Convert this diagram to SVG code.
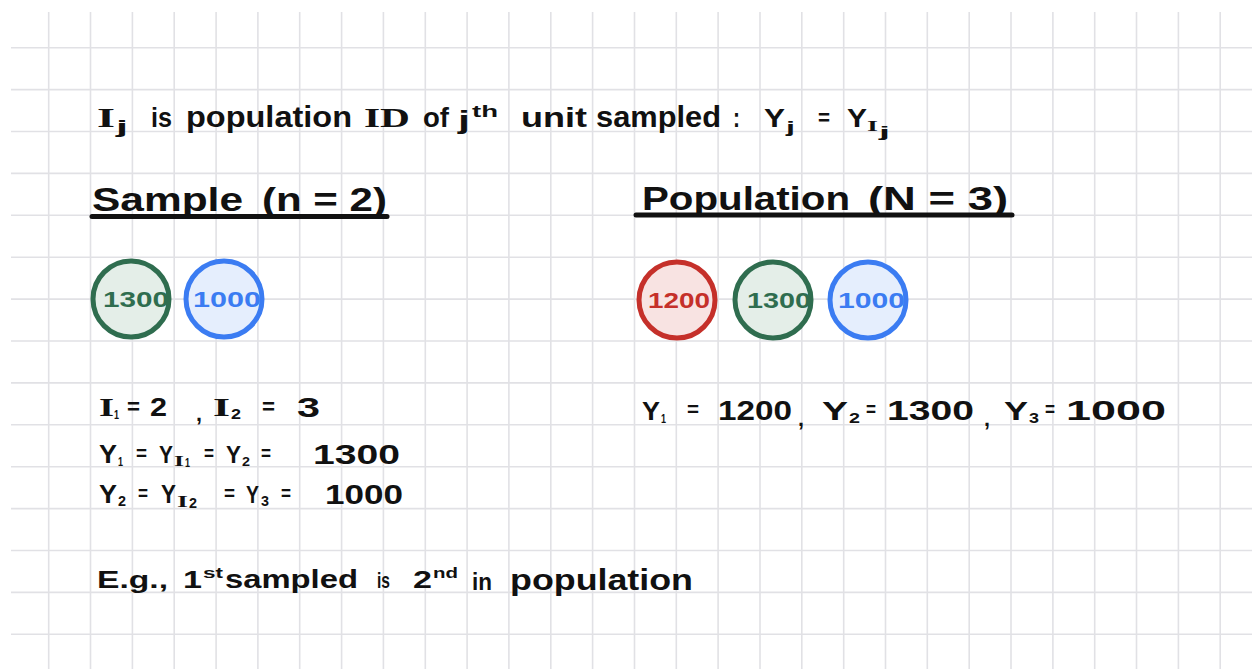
<svg xmlns="http://www.w3.org/2000/svg" width="1252" height="669" viewBox="0 0 1252 669">
<style>
.grid{stroke:#e1e1e5;stroke-width:1.6;fill:none}
text{font-family:"Liberation Sans",Arial,sans-serif;font-weight:bold;fill:#111}
text.i{font-family:"Liberation Serif","Times New Roman",serif}
.ul{stroke:#111;stroke-width:5;stroke-linecap:round}
.g circle{stroke-width:5}
.gr circle{stroke:#2f6d4f;fill:#e4eee8}
.gr text{fill:#2f6d4f}
.bl circle{stroke:#3b7cf2;fill:#e5eefd}
.bl text{fill:#3b7cf2}
.rd circle{stroke:#c5302a;fill:#f8e3e2}
.rd text{fill:#c5302a}
</style>
<rect width="1252" height="669" fill="#fff"/>
<g id="grid">
<path class="grid" d="M48.7 12V669M90.5 12V669M132.4 12V669M174.2 12V669M216.1 12V669M257.9 12V669M299.7 12V669M341.6 12V669M383.4 12V669M425.3 12V669M467.1 12V669M508.9 12V669M550.8 12V669M592.6 12V669M634.5 12V669M676.3 12V669M718.1 12V669M760 12V669M801.8 12V669M843.7 12V669M885.5 12V669M927.3 12V669M969.2 12V669M1011 12V669M1052.9 12V669M1094.7 12V669M1136.5 12V669M1178.4 12V669M1220.2 12V669"/>
<path class="grid" d="M11 47.7H1252M11 89.6H1252M11 131.5H1252M11 173.4H1252M11 215.3H1252M11 257.2H1252M11 299.1H1252M11 341H1252M11 382.9H1252M11 424.8H1252M11 466.7H1252M11 508.6H1252M11 550.5H1252M11 592.4H1252M11 634.3H1252"/>
</g>
<g id="definition">
<text class="i" x="97" y="127" font-size="28" textLength="18" lengthAdjust="spacingAndGlyphs">I</text>
<text x="116" y="133" font-size="19" textLength="12" lengthAdjust="spacingAndGlyphs">j</text>
<text x="151" y="127" font-size="28" textLength="21" lengthAdjust="spacingAndGlyphs">is</text>
<text x="186" y="127" font-size="29" textLength="166" lengthAdjust="spacingAndGlyphs">population</text>
<text class="i" x="364" y="127" font-size="28" textLength="46" lengthAdjust="spacingAndGlyphs">ID</text>
<text x="423" y="127" font-size="28" textLength="26" lengthAdjust="spacingAndGlyphs">of</text>
<text x="458" y="129" font-size="25" textLength="12" lengthAdjust="spacingAndGlyphs">j</text>
<text x="472" y="117" font-size="17" textLength="26" lengthAdjust="spacingAndGlyphs">th</text>
<text x="521" y="127" font-size="28" textLength="66" lengthAdjust="spacingAndGlyphs">unit</text>
<text x="596" y="127" font-size="29" textLength="125" lengthAdjust="spacingAndGlyphs">sampled</text>
<text x="733" y="127" font-size="27" textLength="7" lengthAdjust="spacingAndGlyphs">:</text>
<text x="764" y="127" font-size="26" textLength="21" lengthAdjust="spacingAndGlyphs">Y</text>
<text x="786" y="133" font-size="17" textLength="9" lengthAdjust="spacingAndGlyphs">j</text>
<text x="818" y="125" font-size="22" textLength="12" lengthAdjust="spacingAndGlyphs">=</text>
<text x="847" y="127" font-size="26" textLength="20" lengthAdjust="spacingAndGlyphs">Y</text>
<text class="i" x="867" y="131" font-size="15" textLength="11" lengthAdjust="spacingAndGlyphs">I</text>
<text x="879" y="137" font-size="14" textLength="11" lengthAdjust="spacingAndGlyphs">j</text>
</g>
<g id="sample-heading">
<text x="92" y="211" font-size="34" textLength="151" lengthAdjust="spacingAndGlyphs">Sample</text>
<text x="262" y="211" font-size="34" textLength="125" lengthAdjust="spacingAndGlyphs">(n = 2)</text>
<line class="ul" x1="92" y1="216.5" x2="387" y2="216.5"/>
</g>
<g id="population-heading">
<text x="642" y="210" font-size="34" textLength="208" lengthAdjust="spacingAndGlyphs">Population</text>
<text x="868" y="210" font-size="34" textLength="140" lengthAdjust="spacingAndGlyphs">(N = 3)</text>
<line class="ul" x1="636" y1="215" x2="1012" y2="215"/>
</g>
<g id="sample-1300" class="g gr">
<circle cx="131" cy="299" r="38"/>
<text x="103" y="307" font-size="22" textLength="66" lengthAdjust="spacingAndGlyphs">1300</text>
</g>
<g id="sample-1000" class="g bl">
<circle cx="224" cy="299" r="38"/>
<text x="193" y="307" font-size="22" textLength="68" lengthAdjust="spacingAndGlyphs">1000</text>
</g>
<g id="pop-1200" class="g rd">
<circle cx="677" cy="300" r="38"/>
<text x="648" y="308" font-size="22" textLength="62" lengthAdjust="spacingAndGlyphs">1200</text>
</g>
<g id="pop-1300" class="g gr">
<circle cx="773" cy="300" r="38"/>
<text x="747" y="308" font-size="22" textLength="64" lengthAdjust="spacingAndGlyphs">1300</text>
</g>
<g id="pop-1000" class="g bl">
<circle cx="868" cy="300" r="38"/>
<text x="838" y="308" font-size="22" textLength="67" lengthAdjust="spacingAndGlyphs">1000</text>
</g>
<g id="sample-equations">
<text class="i" x="99" y="416" font-size="26" textLength="15" lengthAdjust="spacingAndGlyphs">I</text>
<text x="114" y="419" font-size="13" textLength="5" lengthAdjust="spacingAndGlyphs">1</text>
<text x="127" y="414" font-size="22" textLength="13" lengthAdjust="spacingAndGlyphs">=</text>
<text x="150" y="416" font-size="26" textLength="17" lengthAdjust="spacingAndGlyphs">2</text>
<text x="196" y="421" font-size="22" textLength="6" lengthAdjust="spacingAndGlyphs">,</text>
<text class="i" x="213" y="416" font-size="26" textLength="17" lengthAdjust="spacingAndGlyphs">I</text>
<text x="231" y="419" font-size="14" textLength="10" lengthAdjust="spacingAndGlyphs">2</text>
<text x="262" y="414" font-size="22" textLength="13" lengthAdjust="spacingAndGlyphs">=</text>
<text x="297" y="417" font-size="28" textLength="23" lengthAdjust="spacingAndGlyphs">3</text>

<text x="99" y="463" font-size="26" textLength="18" lengthAdjust="spacingAndGlyphs">Y</text>
<text x="118" y="466" font-size="13" textLength="5" lengthAdjust="spacingAndGlyphs">1</text>
<text x="136" y="460" font-size="21" textLength="11" lengthAdjust="spacingAndGlyphs">=</text>
<text x="159" y="463" font-size="24" textLength="14" lengthAdjust="spacingAndGlyphs">Y</text>
<text class="i" x="174" y="466" font-size="15" textLength="10" lengthAdjust="spacingAndGlyphs">I</text>
<text x="185" y="467" font-size="12" textLength="5" lengthAdjust="spacingAndGlyphs">1</text>
<text x="204" y="460" font-size="21" textLength="10" lengthAdjust="spacingAndGlyphs">=</text>
<text x="226" y="463" font-size="24" textLength="15" lengthAdjust="spacingAndGlyphs">Y</text>
<text x="242" y="466" font-size="13" textLength="8" lengthAdjust="spacingAndGlyphs">2</text>
<text x="261" y="460" font-size="21" textLength="10" lengthAdjust="spacingAndGlyphs">=</text>
<text x="313" y="464" font-size="28" textLength="87" lengthAdjust="spacingAndGlyphs">1300</text>

<text x="99" y="503" font-size="26" textLength="18" lengthAdjust="spacingAndGlyphs">Y</text>
<text x="118" y="506" font-size="14" textLength="8" lengthAdjust="spacingAndGlyphs">2</text>
<text x="138" y="500" font-size="21" textLength="10" lengthAdjust="spacingAndGlyphs">=</text>
<text x="161" y="503" font-size="25" textLength="15" lengthAdjust="spacingAndGlyphs">Y</text>
<text class="i" x="177" y="507" font-size="16" textLength="11" lengthAdjust="spacingAndGlyphs">I</text>
<text x="189" y="508" font-size="14" textLength="8" lengthAdjust="spacingAndGlyphs">2</text>
<text x="224" y="500" font-size="21" textLength="11" lengthAdjust="spacingAndGlyphs">=</text>
<text x="246" y="503" font-size="24" textLength="13" lengthAdjust="spacingAndGlyphs">Y</text>
<text x="261" y="506" font-size="14" textLength="8" lengthAdjust="spacingAndGlyphs">3</text>
<text x="281" y="500" font-size="21" textLength="10" lengthAdjust="spacingAndGlyphs">=</text>
<text x="325" y="504" font-size="28" textLength="78" lengthAdjust="spacingAndGlyphs">1000</text>
</g>
<g id="population-equations">
<text x="642" y="420" font-size="26" textLength="18" lengthAdjust="spacingAndGlyphs">Y</text>
<text x="661" y="423" font-size="13" textLength="5" lengthAdjust="spacingAndGlyphs">1</text>
<text x="687" y="416" font-size="21" textLength="12" lengthAdjust="spacingAndGlyphs">=</text>
<text x="718" y="420" font-size="28" textLength="74" lengthAdjust="spacingAndGlyphs">1200</text>
<text x="798" y="426" font-size="22" textLength="6" lengthAdjust="spacingAndGlyphs">,</text>
<text x="822" y="420" font-size="26" textLength="26" lengthAdjust="spacingAndGlyphs">Y</text>
<text x="849" y="423" font-size="14" textLength="11" lengthAdjust="spacingAndGlyphs">2</text>
<text x="866" y="416" font-size="21" textLength="10" lengthAdjust="spacingAndGlyphs">=</text>
<text x="887" y="420" font-size="28" textLength="87" lengthAdjust="spacingAndGlyphs">1300</text>
<text x="984" y="426" font-size="22" textLength="6" lengthAdjust="spacingAndGlyphs">,</text>
<text x="1004" y="420" font-size="26" textLength="24" lengthAdjust="spacingAndGlyphs">Y</text>
<text x="1029" y="423" font-size="15" textLength="10" lengthAdjust="spacingAndGlyphs">3</text>
<text x="1045" y="416" font-size="21" textLength="10" lengthAdjust="spacingAndGlyphs">=</text>
<text x="1066" y="420" font-size="28" textLength="100" lengthAdjust="spacingAndGlyphs">1000</text>
</g>
<g id="example">
<text x="97" y="588" font-size="24" textLength="71" lengthAdjust="spacingAndGlyphs">E.g.,</text>
<text x="183" y="588" font-size="24" textLength="19" lengthAdjust="spacingAndGlyphs">1</text>
<text x="203" y="578" font-size="15" textLength="20" lengthAdjust="spacingAndGlyphs">st</text>
<text x="225" y="588" font-size="26" textLength="133" lengthAdjust="spacingAndGlyphs">sampled</text>
<text x="377" y="588" font-size="22" textLength="13" lengthAdjust="spacingAndGlyphs">is</text>
<text x="413" y="588" font-size="24" textLength="19" lengthAdjust="spacingAndGlyphs">2</text>
<text x="433" y="578" font-size="15" textLength="25" lengthAdjust="spacingAndGlyphs">nd</text>
<text x="472" y="590" font-size="24" textLength="20" lengthAdjust="spacingAndGlyphs">in</text>
<text x="510" y="590" font-size="29" textLength="183" lengthAdjust="spacingAndGlyphs">population</text>
</g>
</svg>
